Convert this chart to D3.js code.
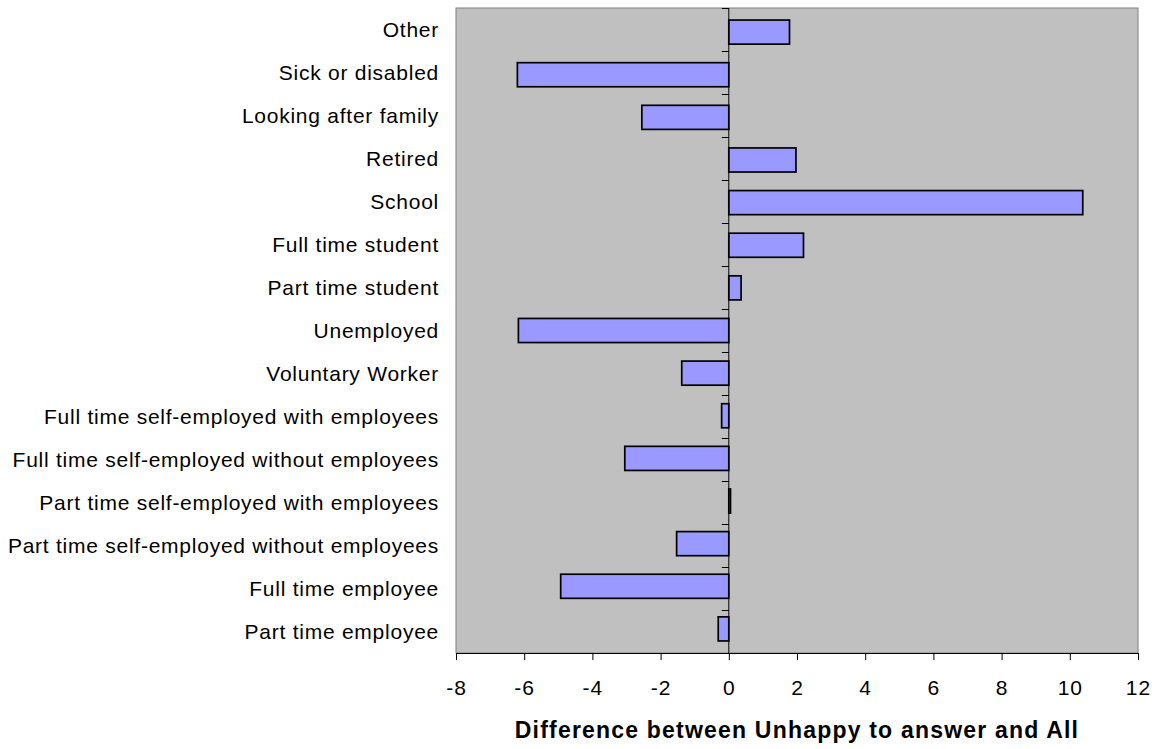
<!DOCTYPE html>
<html><head><meta charset="utf-8">
<script src="https://cdn.jsdelivr.net/npm/d3@7"></script>
<style>body{margin:0;background:#fff;} svg{display:block;font-family:Arial,"Liberation Sans",sans-serif;}</style>
</head><body>
<script>
const categories = ["Other","Sick or disabled","Looking after family","Retired","School","Full time student","Part time student","Unemployed","Voluntary Worker","Full time self-employed with employees","Full time self-employed without employees","Part time self-employed with employees","Part time self-employed without employees","Full time employee","Part time employee"];
const values = [1.78,-6.2,-2.55,1.97,10.38,2.19,0.36,-6.17,-1.38,-0.21,-3.05,0.05,-1.53,-4.93,-0.31];
const xTicks = [-8,-6,-4,-2,0,2,4,6,8,10,12];
const xTitle = "Difference between Unhappy to answer and All";

const W=1161,H=749;
const L=456,R=1138,T=8,B=653;
const svg=d3.select("body").append("svg").attr("width",W).attr("height",H);
const x=d3.scaleLinear().domain([-8,12]).range([L,R]);
const y=d3.scaleBand().domain(categories).range([T,B]).paddingInner(1/2.3).paddingOuter(0.65/2.3);
const yb=d3.scaleBand().domain(categories).range([T,B]);

svg.append("rect").attr("x",L).attr("y",T).attr("width",R-L).attr("height",B-T)
  .attr("fill","#C0C0C0").attr("stroke","#808080").attr("stroke-width",1);

svg.selectAll("rect.bar").data(values).enter().append("rect").attr("class","bar")
  .attr("x",d=>x(Math.min(0,d))).attr("width",d=>Math.abs(x(d)-x(0)))
  .attr("y",(d,i)=>y(categories[i])).attr("height",y.bandwidth())
  .attr("fill","#9999FF").attr("stroke","#000").attr("stroke-width",1.7);

// zero axis with category tick marks
const g0=svg.append("g");
g0.append("line").attr("x1",x(0)).attr("x2",x(0)).attr("y1",T).attr("y2",B).attr("stroke","#000").attr("stroke-width",1);
g0.selectAll("line.t").data(categories).enter().append("line").attr("class","t")
  .attr("x1",x(0)-7).attr("x2",x(0)).attr("y1",d=>Math.round(yb(d))+0.5).attr("y2",d=>Math.round(yb(d))+0.5)
  .attr("stroke","#000").attr("stroke-width",1);

// category labels
svg.selectAll("text.cat").data(categories).enter().append("text").attr("class","cat")
  .attr("x",439).attr("y",d=>yb(d)+yb.bandwidth()/2).attr("dy","0.35em")
  .attr("text-anchor","end").attr("font-size",21).attr("letter-spacing","0.75px").attr("fill","#000").text(d=>d);

// bottom axis
const xa=d3.axisBottom(x).tickValues(xTicks).tickSize(7).tickPadding(20).tickFormat(d=>String(d));
const gx=svg.append("g").attr("transform",`translate(0,${B})`).call(xa);
gx.select(".domain").attr("stroke","#000");
gx.selectAll("text").attr("font-size",21).attr("letter-spacing","1px").attr("font-family","Arial,'Liberation Sans',sans-serif").attr("fill","#000");
gx.selectAll(".tick line").attr("stroke","#000");

svg.append("text").attr("x",797).attr("y",738).attr("text-anchor","middle")
  .attr("font-size",23).attr("font-weight","bold").attr("letter-spacing","1.2px").text(xTitle);
</script>
</body></html>
